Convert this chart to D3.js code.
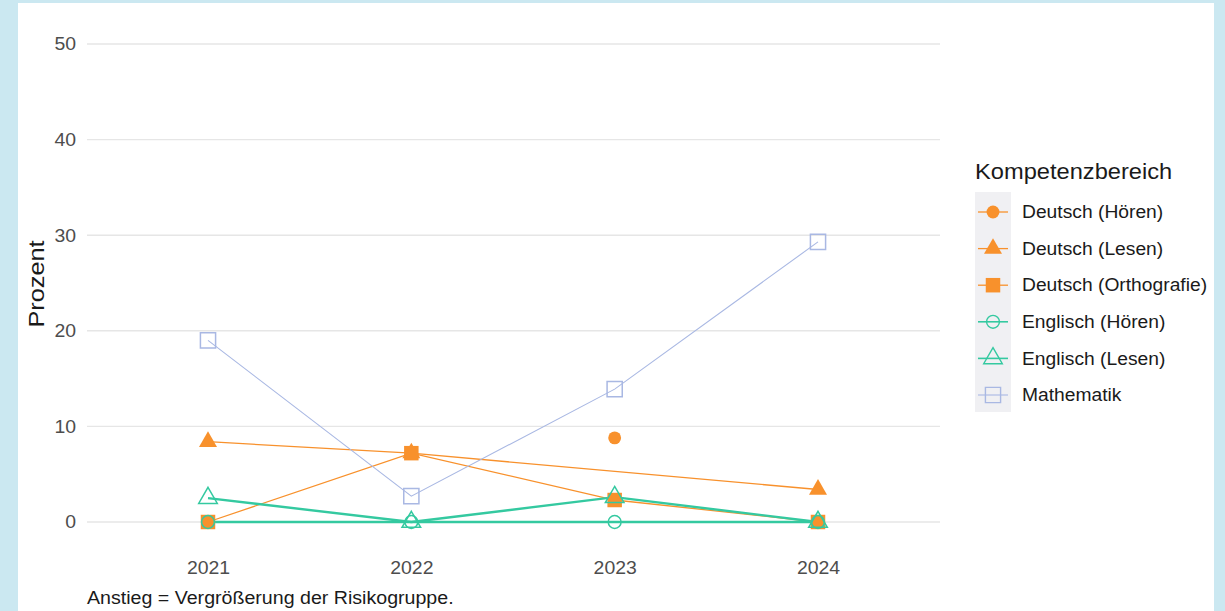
<!DOCTYPE html>
<html>
<head>
<meta charset="utf-8">
<script src="https://cdn.jsdelivr.net/npm/d3@7"></script>
<style>
  body { margin: 0; background: #cbe8f1; }
  svg { display: block; font-family: "Liberation Sans", Arial, sans-serif; }
</style>
</head>
<body>
<svg id="chart" width="1225" height="611"></svg>
<script>
// Daten
const years = ["2021", "2022", "2023", "2024"];
const yTicks = [0, 10, 20, 30, 40, 50];
const seriesNames = [
  "Deutsch (Hören)",
  "Deutsch (Lesen)",
  "Deutsch (Orthografie)",
  "Englisch (Hören)",
  "Englisch (Lesen)",
  "Mathematik"
];
const deutschHoeren = [null, null, 8.8, null];
const deutschLesen = [8.4, 7.2, null, 3.4];
const deutschOrtho = [0, 7.2, 2.3, 0];
const englischHoeren = [0, 0, 0, 0];
const englischLesen = [2.5, 0, 2.6, 0];
const mathematik = [19.0, 2.7, 13.9, 29.3];

const seriesValues = [deutschHoeren, deutschLesen, deutschOrtho, englischHoeren, englischLesen, mathematik];

const orange = "#f8912c", green = "#34c9a0", blue = "#a9b8e3";
const styles = [
  { color: orange, shape: d3.symbolCircle, size: 130, fill: true, lw: 1.3 },
  { color: orange, shape: d3.symbolTriangle, size: 140, fill: true, lw: 1.3 },
  { color: orange, shape: d3.symbolSquare, size: 210, fill: true, lw: 1.3 },
  { color: green, shape: d3.symbolCircle, size: 130, fill: false, lw: 2.4 },
  { color: green, shape: d3.symbolTriangle, size: 150, fill: false, lw: 2.4 },
  { color: blue, shape: d3.symbolSquare, size: 230, fill: false, lw: 1.1 }
];

const svg = d3.select("#chart");

// Text etwas breiter ziehen wie im Original
function stretch(sel, f) {
  sel.each(function () {
    const len = this.getComputedTextLength();
    d3.select(this)
      .attr("textLength", len * f)
      .attr("lengthAdjust", "spacingAndGlyphs");
  });
}

// weißer Hintergrund
svg.append("rect")
  .attr("x", 18).attr("y", 3)
  .attr("width", 1196).attr("height", 611)
  .attr("fill", "#ffffff");

const x = d3.scalePoint().domain(years).range([208, 818]);
const y = d3.scaleLinear().domain([0, 50]).range([522, 44]);

// Gitterlinien
svg.append("g")
  .selectAll("line")
  .data(yTicks)
  .enter()
  .append("line")
  .attr("x1", 87).attr("x2", 940)
  .attr("y1", (d) => y(d)).attr("y2", (d) => y(d))
  .attr("stroke", "#e6e6e6")
  .attr("stroke-width", 1.4);

// Achsen
const yAxis = svg.append("g")
  .attr("transform", "translate(76,0)")
  .call(d3.axisLeft(y).tickValues(yTicks).tickSize(0).tickPadding(0));
yAxis.select(".domain").remove();
yAxis.selectAll("text")
  .attr("fill", "#4d4d4d")
  .style("font-size", "18.5px")
  .call(stretch, 1.05);

const xAxis = svg.append("g")
  .attr("transform", "translate(0,561)")
  .call(d3.axisBottom(x).tickSize(0).tickPadding(0));
xAxis.select(".domain").remove();
xAxis.selectAll("text")
  .attr("fill", "#4d4d4d")
  .attr("dy", "0.71em")
  .style("font-size", "18.5px")
  .call(stretch, 1.05);

svg.append("text")
  .attr("transform", "translate(44,284) rotate(-90)")
  .attr("text-anchor", "middle")
  .attr("fill", "#1a1a1a")
  .style("font-size", "22px")
  .text("Prozent")
  .call(stretch, 1.15);

svg.append("text")
  .attr("x", 87).attr("y", 604)
  .attr("fill", "#1a1a1a")
  .style("font-size", "17.5px")
  .text("Anstieg = Vergrößerung der Risikogruppe.")
  .call(stretch, 1.12);

// Linien
svg.append("g")
  .selectAll("path")
  .data(seriesValues)
  .enter()
  .append("path")
  .attr("d", (vals) => {
    const pts = vals.map((v, i) => ({ v, i })).filter((p) => p.v != null);
    return d3.line().x((p) => x(years[p.i])).y((p) => y(p.v))(pts.length > 1 ? pts : []);
  })
  .attr("fill", "none")
  .attr("stroke", (d, i) => styles[i].color)
  .attr("stroke-width", (d, i) => styles[i].lw);

// Punkte
seriesValues.forEach((vals, si) => {
  const st = styles[si];
  svg.append("g")
    .selectAll("path")
    .data(vals.map((v, i) => ({ v, i })).filter((p) => p.v != null))
    .enter()
    .append("path")
    .attr("transform", (p) => `translate(${x(years[p.i])},${y(p.v)})`)
    .attr("d", d3.symbol().type(st.shape).size(st.size))
    .attr("fill", st.fill ? st.color : "none")
    .attr("stroke", st.color)
    .attr("stroke-width", st.fill ? 0 : 1.5);
});

// Legende
const legend = svg.append("g").attr("transform", "translate(975,0)");
legend.append("text")
  .attr("x", 0).attr("y", 179)
  .attr("fill", "#1a1a1a")
  .style("font-size", "21.5px")
  .text("Kompetenzbereich")
  .call(stretch, 1.1);

legend.append("rect")
  .attr("x", 0).attr("y", 192)
  .attr("width", 36).attr("height", 220)
  .attr("fill", "#f0f0f3");

const item = legend.selectAll("g.item")
  .data(seriesNames)
  .enter()
  .append("g")
  .attr("class", "item")
  .attr("transform", (d, i) => `translate(0,${212 + i * 36.6})`);

item.append("line")
  .attr("x1", 3).attr("x2", 33)
  .attr("stroke", (d, i) => styles[i].color)
  .attr("stroke-width", (d, i) => Math.min(styles[i].lw, 1.6));

item.append("path")
  .attr("transform", "translate(18,0)")
  .attr("d", (d, i) => d3.symbol().type(styles[i].shape).size(styles[i].size)())
  .attr("fill", (d, i) => (styles[i].fill ? styles[i].color : "none"))
  .attr("stroke", (d, i) => styles[i].color)
  .attr("stroke-width", (d, i) => (styles[i].fill ? 0 : 1.4));

item.append("text")
  .attr("x", 47).attr("y", 0)
  .attr("dy", "0.35em")
  .attr("fill", "#1a1a1a")
  .style("font-size", "17.5px")
  .text((d) => d)
  .call(stretch, 1.1);
</script>
</body>
</html>
